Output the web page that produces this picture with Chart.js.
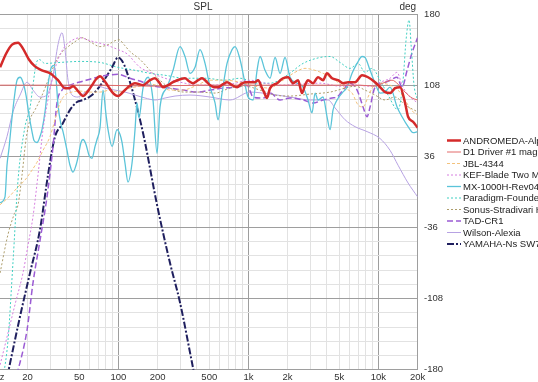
<!DOCTYPE html>
<html><head><meta charset="utf-8">
<script src="https://cdn.jsdelivr.net/npm/chart.js@4"></script>
<style>
html,body{margin:0;padding:0;background:#fff;overflow:hidden;width:538px;height:382px;}
#wrap{position:absolute;left:-40px;top:0;width:578px;height:382px;}
</style></head><body>
<div id="wrap"><canvas id="c" width="578" height="382"></canvas></div>
<script>
// ---- labels ----
const seriesNames = ['ANDROMEDA-Alpha','D1 Driver #1 magnitude','JBL-4344','KEF-Blade Two Meta','MX-1000H-Rev04','Paradigm-Founder 120H','Sonus-Stradivari Homage','TAD-CR1','Wilson-Alexia','YAMAHA-Ns SW700'];
const xLabelValues = [12,20,50,100,200,500,1000,2000,5000,10000,20000];
const xLabelTexts  = ['Hz','20','50','100','200','500','1k','2k','5k','10k','20k'];
const xGridValues = [20,30,40,50,60,70,80,90,100,200,300,400,500,600,700,800,900,1000,2000,3000,4000,5000,6000,7000,8000,9000,10000,20000];
const xMajorValues = [100,1000,10000,20000];
const phaseTicks = [180,108,36,-36,-108,-180];

// ---- series: [frequency Hz, value deg] ----
const andromeda = [[12.3,126],[13.7,140],[15.2,149],[16.9,151],[18.45,145],[20.5,134],[22.8,127],[25.8,123],[29.8,120],[34.3,113],[38.8,105],[41.7,105],[44.8,107],[48.9,102],[53.4,97],[58.4,102],[62.7,108],[67.3,114],[72.2,117],[77.5,113],[83.2,107],[90.9,100],[99.3,97],[106.6,100],[116.5,105],[134,110],[154.6,108],[175,113],[191,115],[205,111],[220,106],[241,108],[263,111],[298,114],[325,115],[349,112],[375,110],[410,113],[440,115],[472,112],[507,108],[544,106],[584,106],[638,109],[685,111],[748,108],[817,106],[877,109],[942,111],[1029,111],[1124,111],[1185,113],[1272,105],[1318,101],[1390,95],[1466,105],[1660,110],[1845,115],[2016,116],[2203,110],[2407,113],[2584,100],[2725,108],[2873,113],[3140,110],[3430,116],[3748,113],[4023,120],[4396,115],[4889,113],[5342,110],[5836,111],[6607,111],[7481,118],[8320,116],[9415,111],[10290,106],[11240,101],[12280,100],[13420,105],[14660,106],[16020,90],[16900,76],[18450,71],[20000,65]];
const d1Driver = [[12.3,108],[72.2,108],[175,107],[424,108],[1029,108],[2494,108],[7220,108],[9415,107],[11240,111],[12720,113],[14150,109],[16020,101],[18140,95],[20000,93]];
const jbl4344 = [[12.3,-13],[14.66,-4],[16.6,4],[19.12,12],[20.89,19],[23.65,30],[26.3,42],[29.77,56],[32.53,73],[35.54,90],[38.83,98],[43.96,101],[50.65,102],[60.47,101],[72.2,101],[86.2,103],[99.3,101],[122.8,105],[146.6,107],[175.1,109],[208.9,107],[249.4,103],[314,103],[388.3,107],[506.5,113],[660.7,113],[862,111],[1124,107],[1466,105],[1751,111],[2283,121],[2725,125],[3253,123],[3883,119],[4637,113],[5535,105],[6265,100],[6968,88],[7613,86],[8320,96],[8931,105],[10290,110],[12280,108],[14150,103],[16020,93],[17820,83],[20000,78]];
const kefBlade = [[12.3,-175],[13.42,-155],[16.02,-114],[18.45,-82],[20.16,-54],[22.03,-25],[24.07,17],[26.3,63],[28.23,88],[30.85,113],[34.3,134],[38.15,146],[42.43,152],[50.65,156],[60.47,153],[78.88,149],[99.3,144],[118.5,139],[134.2,131],[146.6,126],[175.1,121],[228.3,115],[297.7,111],[424.3,108],[722,109],[1029,113],[1342,110],[1751,108],[2494,109],[3554,110],[5065,107],[6607,108],[8620,107],[10290,111],[12280,115],[13900,121],[15190,108],[16900,98],[20000,90]];
const mx1000h = [[12.3,-11],[13.42,-5],[13.9,27],[14.4,44],[14.92,65],[15.74,93],[16.6,113],[17.51,116],[18.45,111],[19.46,98],[20.52,78],[21.64,61],[22.43,52],[23.65,50],[24.94,56],[25.84,63],[27.25,81],[28.73,108],[30.3,125],[31.96,128],[33.11,115],[34.3,88],[36.18,68],[37.48,61],[40.23,42],[42.43,27],[44.75,20],[47.2,27],[48.9,35],[51.56,50],[53.4,53],[56.34,48],[59.4,37],[62.65,34],[66.07,46],[68.45,53],[72.2,65],[76.13,103],[80.29,78],[83.2,63],[89.31,46],[97.6,63],[102.9,58],[106.6,50],[112.4,29],[118.5,10],[127.2,29],[134.2,63],[139,90],[144,75],[154.6,105],[169,116],[184.5,93],[198.1,39],[208.9,86],[236.5,106],[263,123],[297.7,147],[325.3,137],[355.4,120],[388.3,126],[424.3,144],[463.7,130],[506.5,106],[553.5,90],[583.6,73],[626.5,100],[684.5,130],[748,144],[788.8,147],[862,134],[908.7,120],[993.1,96],[1085,93],[1165,123],[1228,137],[1342,123],[1466,115],[1602,136],[1751,120],[1912,136],[2089,116],[2365,110],[2630,106],[2873,93],[3084,80],[3253,100],[3430,93],[3748,96],[4023,76],[4243,63],[4475,83],[4804,93],[5248,100],[5735,106],[6265,120],[6846,130],[7481,137],[7888,136],[8620,123],[9415,110],[10290,100],[11240,101],[12280,106],[13900,86],[15190,76],[16900,66],[18450,60],[20000,61]];
const paradigm = [[12.95,-190],[14.15,-150],[15.46,-71],[16.9,12],[19.12,66],[20.89,85],[22.03,108],[23.24,129],[24.5,134],[27.25,130],[35.54,131],[50.65,132],[72.2,131],[99.3,126],[122.8,124],[175.1,120],[228.3,118],[325.3,115],[463.7,115],[660.7,113],[862,115],[1165,110],[1466,110],[1981,118],[2630,130],[3554,136],[4243,137],[5065,131],[6047,125],[6968,130],[7888,121],[8931,125],[10290,113],[11850,98],[14150,83],[15460,113],[16310,154],[17200,174],[17820,149],[18780,108],[20000,93]];
const sonus = [[12.3,-82],[14.15,-43],[15.74,-23],[16.9,-13],[18.14,17],[19.46,53],[20.89,73],[22.83,83],[24.94,93],[27.25,105],[29.77,118],[32.53,130],[35.54,139],[40.23,146],[46.37,152],[52.48,156],[60.47,152],[72.2,147],[83.2,149],[94.2,153],[101.1,154],[110.4,149],[122.8,142],[146.6,134],[175.1,123],[208.9,113],[249.4,105],[325.3,101],[424.3,101],[553.5,100],[722,105],[941.5,107],[1228,103],[1602,98],[2089,97],[2977,99],[4243,101],[5535,105],[6607,107],[7888,103],[9415,98],[11240,93],[13420,96],[16020,88],[20000,81]];
const tadCR1 = [[16.6,-185],[19.81,-140],[22.03,-92],[24.94,-49],[28.23,-5],[31.4,46],[33.7,90],[36.82,103],[42.43,108],[53.4,112],[63.77,115],[81.73,118],[99.3,119],[122.8,115],[154.6,111],[175.1,108],[249.4,105],[314,103],[402.3,101],[506.5,103],[637.7,105],[817.3,106],[975.5,108],[1085,96],[1228,95],[1390,96],[1466,100],[1751,93],[2089,95],[2630,93],[3140,90],[3748,93],[4396,95],[4804,96],[5342,103],[6047,110],[6846,103],[7613,86],[8173,76],[8620,86],[9415,106],[10850,110],[12280,113],[13900,116],[15190,106],[16600,123],[18140,141],[20000,156]];
const wilson = [[12.3,34],[13.9,56],[15.46,81],[17.51,98],[19.81,111],[22.03,103],[24.94,96],[28.23,98],[31.4,118],[34.3,149],[36.82,161],[38.83,144],[40.95,113],[43.96,98],[48.9,96],[55.35,101],[66.07,108],[78.88,105],[94.2,103],[112.4,101],[134.2,98],[160.2,95],[191.2,93],[228.3,95],[272.5,97],[355.4,98],[506.5,96],[722,93],[1029,101],[1466,99],[2089,96],[2977,93],[4095,93],[4637,85],[5535,73],[6607,66],[8173,61],[10290,54],[12280,42],[14150,27],[16900,9],[20000,-5]];
const yamaha = [[13.9,-188],[17.51,-126],[20.89,-82],[24.94,-38],[28.73,17],[32.53,56],[36.82,68],[42.43,83],[48.04,91],[53.4,93],[62.65,98],[74.81,110],[89.31,126],[99.3,136],[110.4,129],[122.8,111],[134.2,93],[146.6,73],[160.2,50],[198.1,-13],[249.4,-72],[297.7,-112],[374.8,-178],[388.3,-188]];

const seriesData = [andromeda,d1Driver,jbl4344,kefBlade,mx1000h,paradigm,sonus,tadCR1,wilson,yamaha];
const styles = [
  {c:'#d42a2a', w:2.5, d:[]},
  {c:'#e36a6a', w:1,   d:[]},
  {c:'#f3c27c', w:1,   d:[3,2]},
  {c:'#d67fe0', w:1,   d:[2,2]},
  {c:'#5bc4d9', w:1.3, d:[]},
  {c:'#3fcfc2', w:1,   d:[2,2]},
  {c:'#ad9d6c', w:1,   d:[2,2]},
  {c:'#9b5bd4', w:1.5, d:[6,3]},
  {c:'#b7a2e3', w:1,   d:[]},
  {c:'#1f1f5e', w:2,   d:[7,2,2,2]}
];

// phase grid: 5 subdivisions between labelled ticks
const yGridValues = [];
for (let i = 0; i < phaseTicks.length - 1; i++) {
  const a = phaseTicks[i], b = phaseTicks[i+1];
  for (let k = 0; k < 5; k++) yGridValues.push(a + (b - a) * k / 5);
}
yGridValues.push(phaseTicks[phaseTicks.length-1]);
yGridValues.reverse();

const allX = xLabelValues.concat(xGridValues).filter((v,i,a)=>a.indexOf(v)===i).sort((a,b)=>a-b);

const FONT = 'Arial, "Liberation Sans", sans-serif';
Chart.defaults.font.family = FONT;
Chart.defaults.color = '#333';

const textPlugin = {
  id: 'textPlugin',
  afterDraw(chart) {
    const c = chart.ctx, a = chart.chartArea;
    c.save();
    c.fillStyle = '#333';
    c.font = '10px ' + FONT;
    c.textBaseline = 'middle';
    c.textAlign = 'center';
    c.fillText('SPL', (a.left + a.right) / 2, 7);
    c.textAlign = 'right';
    c.fillText('deg', a.right - 1.5, 7);
    chart.data.datasets.forEach((ds, i) => {
      const y = 140.5 + i * 11.5;
      c.strokeStyle = ds.borderColor;
      c.lineWidth = ds.borderWidth;
      c.setLineDash(ds.borderDash || []);
      c.beginPath(); c.moveTo(487, y); c.lineTo(501, y); c.stroke();
      c.setLineDash([]);
      c.textAlign = 'left';
      c.fillStyle = '#222';
      c.font = '9.5px ' + FONT;
      c.fillText(ds.label, 503, y + 0.5);
    });
    c.restore();
  }
};

new Chart(document.getElementById('c'), {
  type: 'line',
  data: {
    datasets: seriesData.map((arr, i) => ({
      label: seriesNames[i],
      data: arr.map(p => ({x: p[0], y: p[1]})),
      borderColor: styles[i].c,
      borderWidth: styles[i].w,
      borderDash: styles[i].d,
      pointRadius: 0,
      fill: false,
      cubicInterpolationMode: 'monotone'
    }))
  },
  options: {
    responsive: false,
    maintainAspectRatio: false,
    devicePixelRatio: 1,
    animation: false,
    layout: {padding: {left: 28.4, top: 14, right: 0, bottom: 0}},
    plugins: {legend: {display: false}, title: {display: false}, tooltip: {enabled: false}},
    scales: {
      x: {
        type: 'logarithmic', position: 'bottom', min: 10, max: 20000,
        afterBuildTicks: s => { s.ticks = allX.map(v => ({value: v})); },
        afterFit: s => { s.height = 12; },
        ticks: {
          autoSkip: false, maxRotation: 0, minRotation: 0, padding: 2,
          color: '#333', font: {size: 9.5},
          callback: (v, i) => { const j = xLabelValues.indexOf(allX[i]); return j >= 0 ? xLabelTexts[j] : ''; }
        },
        grid: {
          drawTicks: false, lineWidth: 1,
          color: ctx => {
            const v = allX[ctx.index];
            if (xGridValues.indexOf(v) < 0) return 'rgba(0,0,0,0)';
            return xMajorValues.indexOf(v) >= 0 ? '#9e9e9e' : '#e2e2e2';
          }
        },
        border: {display: true, color: '#9e9e9e'}
      },
      y: {
        type: 'linear', position: 'right', min: -180, max: 180,
        afterBuildTicks: s => { s.ticks = yGridValues.map(v => ({value: v})); },
        afterFit: s => { s.width = 120.4; },
        ticks: {
          autoSkip: false, padding: 6.5, color: '#333', font: {size: 9.5},
          callback: (v, i) => {
            const val = yGridValues[i];
            const hit = phaseTicks.find(t => Math.abs(t - val) < 0.01);
            return hit !== undefined ? String(hit) : '';
          }
        },
        grid: {
          drawTicks: false, lineWidth: 1,
          color: ctx => {
            const val = yGridValues[ctx.index];
            return phaseTicks.some(t => Math.abs(t - val) < 0.01) ? '#9e9e9e' : '#e2e2e2';
          }
        },
        border: {display: true, color: '#9e9e9e'}
      }
    }
  },
  plugins: [textPlugin]
});
</script>
</body></html>
